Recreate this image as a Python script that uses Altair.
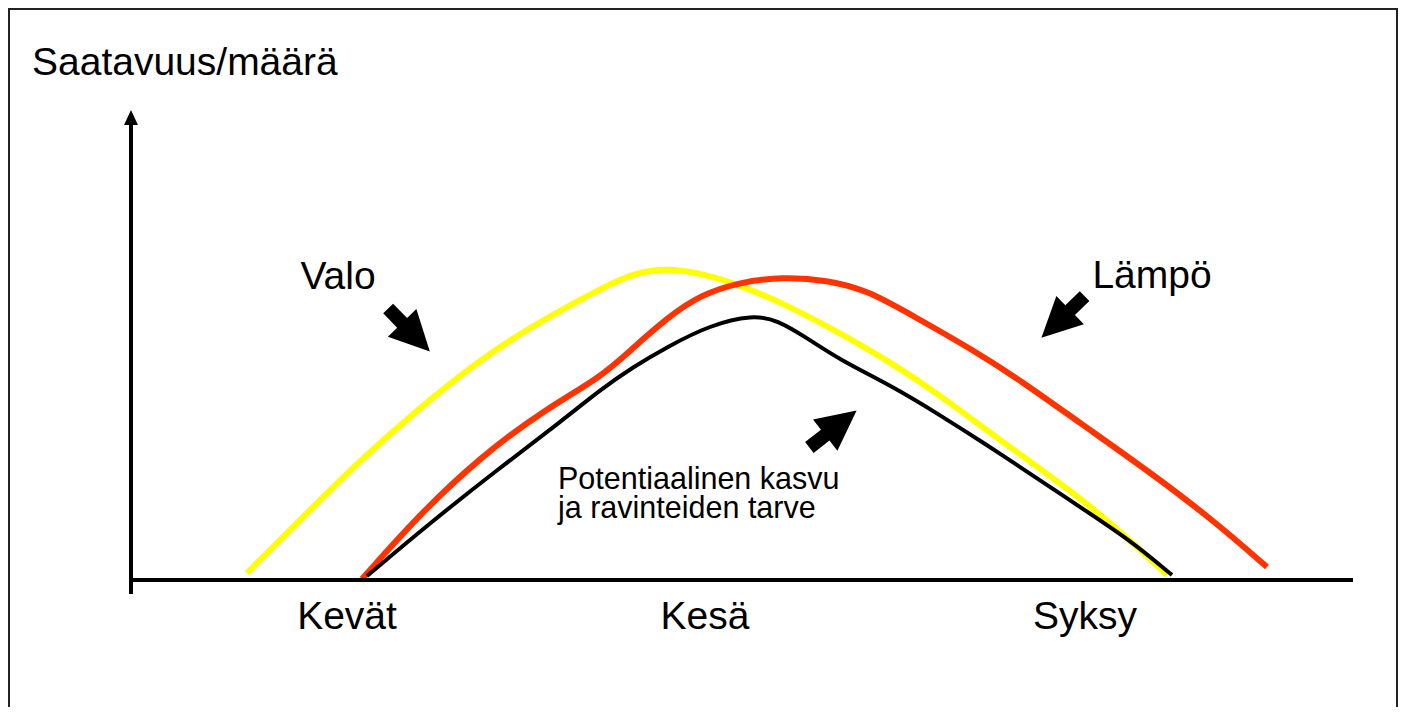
import altair as alt
import pandas as pd

# Conceptual chart: season (x) vs availability/amount (y); axis corner = (0, 0)
valo_x = [116, 166, 226, 286, 346, 399, 469, 502, 536, 569, 609, 656, 709, 759, 809, 859, 949, 999, 1036]
valo_y = [7, 57, 117, 170, 218, 253, 291, 307, 312, 307, 295, 275, 247, 218, 185, 147, 83, 40, 5]

lampo_x = [231, 286, 349, 416, 469, 502, 536, 569, 609, 652, 696, 736, 784, 842, 889, 949, 1016, 1082, 1136]
lampo_y = [1, 63, 123, 172, 202, 232, 262, 285, 298, 303, 300, 290, 263, 230, 200, 157, 110, 60, 13]

kasvu_x = [236, 299, 366, 432, 469, 502, 536, 579, 622, 646, 676, 709, 759, 809, 859, 889, 949, 999, 1041]
kasvu_y = [4, 57, 110, 160, 190, 213, 233, 255, 265, 260, 242, 220, 195, 165, 133, 113, 73, 40, 5]

season_labels = ["Kevät", "Kesä", "Syksy"]
season_x = [216, 574, 954]
season_y = [-49, -49, -49]

series_labels = ["Valo", "Lämpö"]
series_label_x = [207, 1021]
series_label_y = [291, 292]

note_lines = ["Potentiaalinen kasvu", "ja ravinteiden tarve"]
note_x = [427, 427]
note_y = [91, 62]

title_text = ["Saatavuus/määrä"]
title_x = [-99]
title_y = [505]

arrow_x = [278, 932, 702]
arrow_y = [250, 263, 151]
arrow_angle = [136, 226, 52]

# axes extents (data units)
yaxis_bottom, yaxis_top = -14, 456
yhead_y = 462.5
xaxis_right = 1222

X = alt.Scale(domain=[-123, 1267], nice=False, zero=False)
Y = alt.Scale(domain=[-127, 572], nice=False, zero=False)

def xe(f="x"):
    return alt.X(f"{f}:Q", scale=X, axis=None)

def ye(f="y"):
    return alt.Y(f"{f}:Q", scale=Y, axis=None)

FONT = "Liberation Sans"

frame = alt.Chart(pd.DataFrame({"x": [-122], "x2": [1266], "y": [571], "y2": [-160]})).mark_rect(
    fill="white", fillOpacity=0, stroke="#222222", strokeWidth=2
).encode(x=xe(), x2="x2:Q", y=ye(), y2="y2:Q")

yaxis = alt.Chart(pd.DataFrame({"x": [0], "y": [yaxis_bottom], "y2": [yaxis_top]})).mark_rule(
    color="black", strokeWidth=4
).encode(x=xe(), y=ye(), y2="y2:Q")

yhead = alt.Chart(pd.DataFrame({"x": [0], "y": [yhead_y]})).mark_point(
    shape="M0,-1L0.93,1L-0.93,1Z", filled=True, color="black", opacity=1, size=225, strokeWidth=0
).encode(x=xe(), y=ye())

xaxis = alt.Chart(pd.DataFrame({"x": [-2], "x2": [xaxis_right], "y": [0]})).mark_rule(
    color="black", strokeWidth=4
).encode(x=xe(), x2="x2:Q", y=ye())

def curve(xs, ys, color, width):
    return alt.Chart(pd.DataFrame({"x": xs, "y": ys})).mark_line(
        color=color, strokeWidth=width, interpolate="basis", strokeCap="butt"
    ).encode(x=xe(), y=ye())

valo = curve(valo_x, valo_y, "#ffff00", 6)
lampo = curve(lampo_x, lampo_y, "#ff3300", 6)
kasvu = curve(kasvu_x, kasvu_y, "#000000", 4)

arrows = alt.Chart(pd.DataFrame({"x": arrow_x, "y": arrow_y, "a": arrow_angle})).mark_point(
    shape="M0,-1L0.66,0.33L0.23,0.33L0.23,1L-0.23,1L-0.23,0.33L-0.66,0.33Z",
    filled=True, color="black", opacity=1, size=3600, strokeWidth=0
).encode(x=xe(), y=ye(), angle=alt.Angle("a:Q", scale=None))

def texts(xs, ys, labels, size, align):
    return alt.Chart(pd.DataFrame({"x": xs, "y": ys, "t": labels})).mark_text(
        font=FONT, fontSize=size, align=align, baseline="alphabetic", color="black"
    ).encode(x=xe(), y=ye(), text="t:N")

title = texts(title_x, title_y, title_text, 39, "left")
seasons = texts(season_x, season_y, season_labels, 39, "center")
series = texts(series_label_x, series_label_y, series_labels, 39, "center")
note = texts(note_x, note_y, note_lines, 30.5, "left")

chart = alt.layer(
    frame, valo, lampo, kasvu, yaxis, yhead, xaxis, arrows, title, seasons, series, note
).properties(
    width=1390, height=699, padding=0,
    autosize=alt.AutoSizeParams(type="none"),
    background="white",
).configure_view(strokeOpacity=0)

chart.save("out.html", embed_options={"renderer": "svg", "actions": False})
